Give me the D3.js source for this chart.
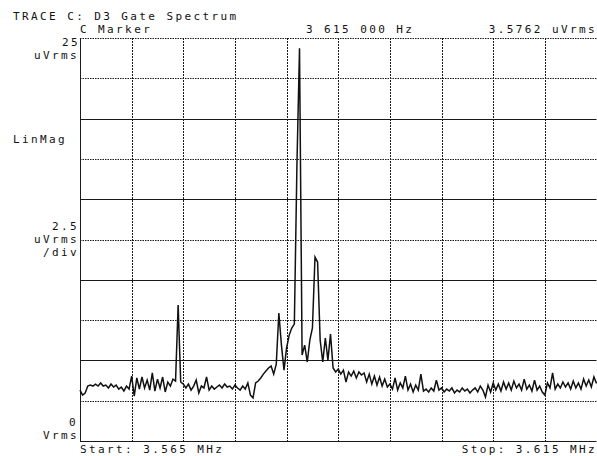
<!DOCTYPE html>
<html>
<head>
<meta charset="utf-8">
<script src="https://cdn.jsdelivr.net/npm/d3@7"></script>
<style>
  body { margin: 0; background: #fff; }
  svg { display: block; }
  text { font-family: "DejaVu Sans Mono", monospace; font-size: 11px; fill: #111; letter-spacing: 2.4px; }
</style>
</head>
<body>
<svg id="chart" width="597" height="456"></svg>
<script>
// Header and footer annotations of the analyzer screen
const title = "TRACE C: D3 Gate Spectrum";
const markerLabel = "C Marker";
const markerFreq = "3 615 000 Hz";
const markerValue = "3.5762 uVrms";
const startLabel = "Start: 3.565 MHz";
const stopLabel = "Stop: 3.615 MHz";

// Left-side scale annotations
const topLabels = ["25", "uVrms"];
const formatLabel = ["LinMag"];
const scaleLabels = ["2.5", "uVrms", "/div"];
const bottomLabels = ["0", "Vrms"];

// Sweep span (MHz) and vertical scale (uVrms)
const startMHz = 3.565;
const stopMHz = 3.615;
const refLevel = 25;
const perDiv = 2.5;

// Measured magnitude, uVrms, one value per sweep point (201 points)
const magnitude = [
  3.16, 2.85, 2.98, 3.41, 3.47, 3.41, 3.53, 3.41, 3.60, 3.41,
  3.47, 3.29, 3.53, 3.35, 3.47, 3.22, 3.35, 3.10, 3.41, 3.22,
  4.03, 2.79, 3.91, 3.22, 3.97, 3.29, 3.78, 3.16, 4.22, 3.10,
  3.84, 3.29, 3.97, 3.04, 3.66, 3.41, 3.84, 3.72, 8.43, 3.66,
  3.53, 3.29, 3.53, 3.16, 3.41, 3.78, 2.98, 3.41, 3.29, 3.97,
  3.16, 3.41, 3.22, 3.35, 3.47, 3.29, 3.53, 3.35, 3.41, 3.22,
  3.47, 3.29, 3.16, 3.41, 3.22, 3.60, 2.85, 2.67, 3.60, 3.72,
  3.91, 4.15, 4.34, 4.53, 4.65, 4.15, 4.77, 7.94, 5.95, 4.40,
  5.77, 6.57, 7.01, 7.25, 17.11, 24.36, 5.33, 5.95, 4.90, 6.26,
  7.01, 11.41, 11.10, 6.26, 4.90, 6.39, 5.02, 6.63, 4.53, 4.28,
  4.46, 4.15, 4.40, 3.66, 4.28, 4.03, 4.34, 3.91, 4.28, 4.09,
  4.22, 3.66, 4.15, 3.53, 4.03, 3.47, 3.97, 3.41, 3.84, 3.35,
  3.53, 3.22, 3.91, 3.16, 3.60, 3.29, 4.03, 3.16, 3.53, 3.04,
  3.47, 3.16, 4.15, 3.10, 3.22, 3.04, 3.29, 3.10, 3.78, 3.16,
  3.29, 3.04, 3.22, 3.10, 3.29, 2.98, 3.16, 3.04, 3.29, 3.10,
  3.22, 2.98, 3.16, 3.29, 3.04, 3.41, 3.16, 2.73, 3.47, 3.04,
  3.60, 3.16, 3.53, 3.10, 3.66, 3.22, 3.60, 3.16, 3.72, 3.29,
  3.53, 3.16, 3.84, 3.22, 3.47, 3.10, 3.78, 3.16, 3.41, 3.04,
  2.85, 3.60, 3.29, 4.22, 3.22, 3.53, 3.29, 3.66, 3.35, 3.60,
  3.22, 3.72, 3.29, 3.60, 3.22, 3.84, 3.41, 3.78, 3.35, 3.97,
  3.5762
];

const svg = d3.select("#chart");
const plotLeft = 80, plotRight = 596.5, plotTop = 38, plotBottom = 441;

const x = d3.scaleLinear().domain([startMHz, stopMHz]).range([plotLeft, plotRight]);
const y = d3.scaleLinear().domain([0, refLevel]).range([plotBottom, plotTop]);

const step = (stopMHz - startMHz) / (magnitude.length - 1);
const points = magnitude.map((v, i) => ({ f: startMHz + i * step, v }));

// Graticule: 10 x 10 divisions
const grid = svg.append("g");
const xDivs = d3.range(11).map(i => startMHz + i * (stopMHz - startMHz) / 10);
const yDivs = d3.range(11).map(i => i * perDiv);

grid.selectAll("line.h").data(yDivs).join("line")
  .attr("x1", plotLeft).attr("x2", plotRight)
  .attr("y1", d => Math.round(y(d)) + 0.5).attr("y2", d => Math.round(y(d)) + 0.5)
  .attr("stroke", "#1a1a1a")
  .attr("stroke-width", 1)
  .attr("stroke-dasharray", d => {
    const k = Math.round(d / perDiv);
    return (k % 2 === 0 && k !== 10) ? null : "1.5,1";
  });

grid.selectAll("line.v").data(xDivs).join("line")
  .attr("y1", plotTop).attr("y2", plotBottom)
  .attr("x1", d => Math.round(x(d)) + 0.5).attr("x2", d => Math.round(x(d)) + 0.5)
  .attr("stroke", "#1a1a1a")
  .attr("stroke-width", 1)
  .attr("stroke-dasharray", (d, i) => i === 0 ? null : "2,1");

// Trace
const line = d3.line().x(d => x(d.f)).y(d => y(d.v));
svg.append("path")
  .datum(points)
  .attr("d", line)
  .attr("fill", "none")
  .attr("stroke", "#111")
  .attr("stroke-width", 1.5)
  .attr("stroke-linejoin", "miter");

// Annotations
const txt = (s, tx, ty, anchor) => svg.append("text")
  .attr("x", tx).attr("y", ty)
  .attr("text-anchor", anchor || "start")
  .text(s);

txt(title, 13, 20);
txt(markerLabel, 80, 33);
txt(markerFreq, 306, 33);
txt(markerValue, 597, 33, "end");

txt(topLabels[0], 80, 46, "end");
txt(topLabels[1], 79, 59, "end");
txt(formatLabel[0], 13, 143);
txt(scaleLabels[0], 79, 230, "end");
txt(scaleLabels[1], 79, 243, "end");
txt(scaleLabels[2], 79, 256, "end");
txt(bottomLabels[0], 78, 426, "end");
txt(bottomLabels[1], 79, 439, "end");

txt(startLabel, 80, 453);
txt(stopLabel, 597, 453, "end");
</script>
</body>
</html>
